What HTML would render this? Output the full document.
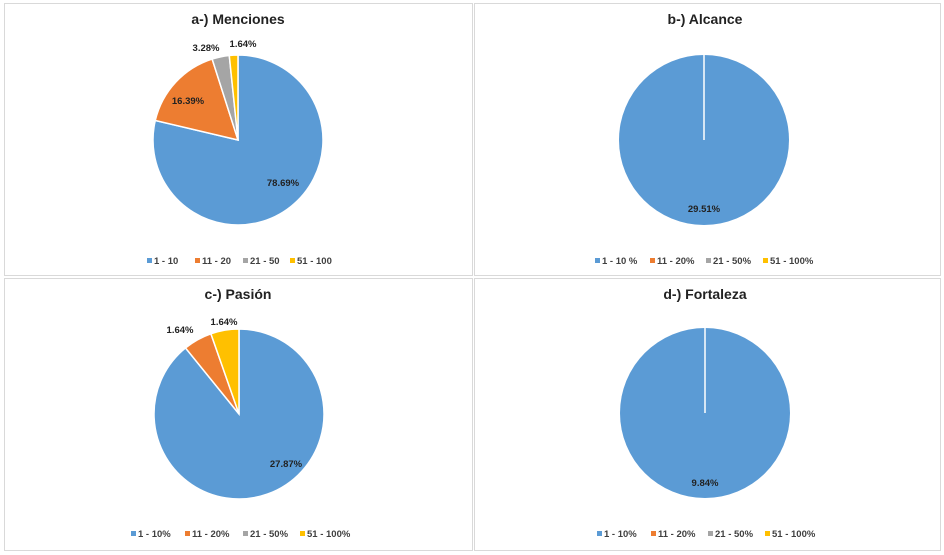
<!DOCTYPE html>
<html><head><meta charset="utf-8"><style>
html,body{margin:0;padding:0;background:#fff;}
svg{display:block;font-family:"Liberation Sans",Arial,sans-serif;}
.t{font-size:14px;font-weight:bold;fill:#222;text-anchor:middle;}
.l{font-size:9.5px;font-weight:bold;fill:#222;text-anchor:middle;}
.g{font-size:9.5px;font-weight:bold;fill:#404040;}
</style></head><body>
<svg width="944" height="555" viewBox="0 0 944 555">
<rect x="0" y="0" width="944" height="555" fill="#fff"/>
<rect x="4.5" y="3.5" width="468" height="272" fill="#fff" stroke="#d9d9d9"/>
<rect x="474.5" y="3.5" width="466" height="272" fill="#fff" stroke="#d9d9d9"/>
<rect x="4.5" y="278.5" width="468" height="272" fill="#fff" stroke="#d9d9d9"/>
<rect x="474.5" y="278.5" width="466" height="272" fill="#fff" stroke="#d9d9d9"/>

<!-- a -->
<text class="t" x="238" y="24">a-) Menciones</text>
<g stroke="#fff" stroke-width="1.5">
<path d="M238,140 L238,55 A85,85 0 1 1 155.28,120.46 Z" fill="#5b9bd5"/>
<path d="M238,140 L155.28,120.46 A85,85 0 0 1 212.13,59.03 Z" fill="#ed7d31"/>
<path d="M238,140 L212.13,59.03 A85,85 0 0 1 229.26,55.45 Z" fill="#a5a5a5"/>
<path d="M238,140 L229.26,55.45 A85,85 0 0 1 238,55 Z" fill="#ffc000"/>
</g>
<text class="l" x="283" y="186">78.69%</text>
<text class="l" x="188" y="104">16.39%</text>
<text class="l" x="206" y="51">3.28%</text>
<text class="l" x="243" y="47">1.64%</text>
<g class="g">
<rect x="147" y="258" width="5" height="5" fill="#5b9bd5"/><text x="154" y="264">1  -  10</text>
<rect x="195" y="258" width="5" height="5" fill="#ed7d31"/><text x="202" y="264">11 - 20</text>
<rect x="243" y="258" width="5" height="5" fill="#a5a5a5"/><text x="250" y="264">21 - 50</text>
<rect x="290" y="258" width="5" height="5" fill="#ffc000"/><text x="297" y="264">51 - 100</text>
</g>

<!-- b -->
<text class="t" x="705" y="24">b-) Alcance</text>
<circle cx="704" cy="140" r="85" fill="#5b9bd5"/>
<line x1="704" y1="55" x2="704" y2="140" stroke="#fff" stroke-width="1.5"/>
<text class="l" x="704" y="212">29.51%</text>
<g class="g">
<rect x="595" y="258" width="5" height="5" fill="#5b9bd5"/><text x="602" y="264">1 - 10 %</text>
<rect x="650" y="258" width="5" height="5" fill="#ed7d31"/><text x="657" y="264">11 - 20%</text>
<rect x="706" y="258" width="5" height="5" fill="#a5a5a5"/><text x="713" y="264">21 - 50%</text>
<rect x="763" y="258" width="5" height="5" fill="#ffc000"/><text x="770" y="264">51 - 100%</text>
</g>

<!-- c -->
<text class="t" x="238" y="299">c-) Pasión</text>
<g stroke="#fff" stroke-width="1.5">
<path d="M239,414 L239,329 A85,85 0 1 1 185.51,347.95 Z" fill="#5b9bd5"/>
<path d="M239,414 L185.51,347.95 A85,85 0 0 1 210.91,333.78 Z" fill="#ed7d31"/>
<path d="M239,414 L210.91,333.78 A85,85 0 0 1 239,329 Z" fill="#ffc000"/>
</g>
<text class="l" x="286" y="467">27.87%</text>
<text class="l" x="180" y="333">1.64%</text>
<text class="l" x="224" y="325">1.64%</text>
<g class="g">
<rect x="131" y="531" width="5" height="5" fill="#5b9bd5"/><text x="138" y="537">1 - 10%</text>
<rect x="185" y="531" width="5" height="5" fill="#ed7d31"/><text x="192" y="537">11 - 20%</text>
<rect x="243" y="531" width="5" height="5" fill="#a5a5a5"/><text x="250" y="537">21 - 50%</text>
<rect x="300" y="531" width="5" height="5" fill="#ffc000"/><text x="307" y="537">51 - 100%</text>
</g>

<!-- d -->
<text class="t" x="705" y="299">d-) Fortaleza</text>
<circle cx="705" cy="413" r="85" fill="#5b9bd5"/>
<line x1="705" y1="328" x2="705" y2="413" stroke="#fff" stroke-width="1.5"/>
<text class="l" x="705" y="486">9.84%</text>
<g class="g">
<rect x="597" y="531" width="5" height="5" fill="#5b9bd5"/><text x="604" y="537">1 - 10%</text>
<rect x="651" y="531" width="5" height="5" fill="#ed7d31"/><text x="658" y="537">11 - 20%</text>
<rect x="708" y="531" width="5" height="5" fill="#a5a5a5"/><text x="715" y="537">21 - 50%</text>
<rect x="765" y="531" width="5" height="5" fill="#ffc000"/><text x="772" y="537">51 - 100%</text>
</g>
</svg>
</body></html>
